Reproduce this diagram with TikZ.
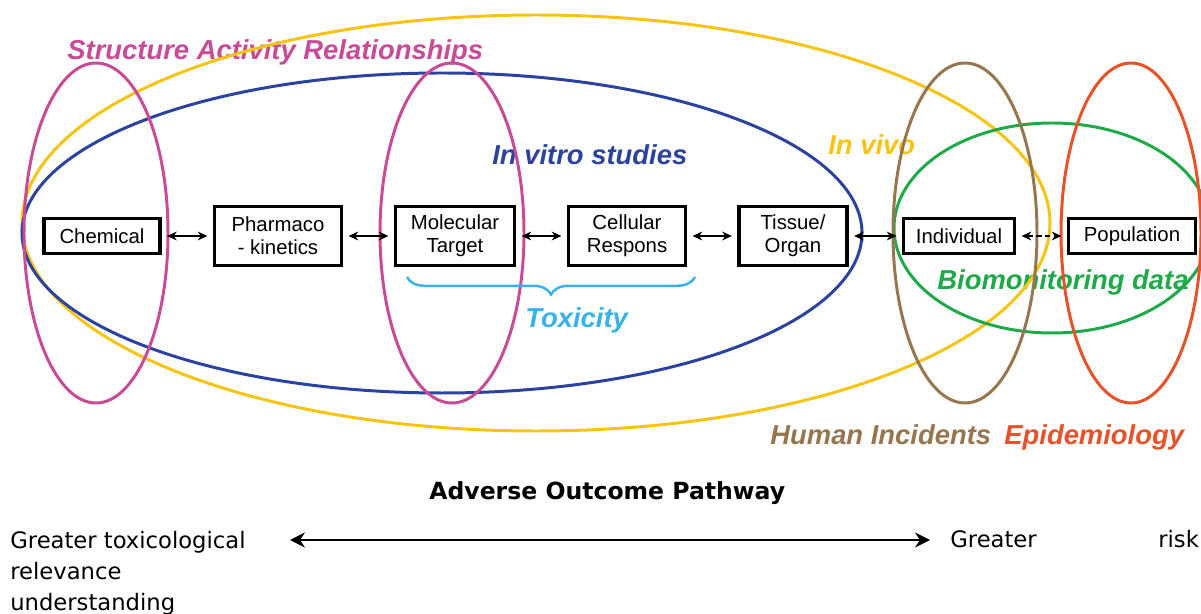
\documentclass[tikz,border=0pt]{standalone}
\usepackage{fontspec}
\setmainfont{Liberation Sans}
\newfontfamily\plainfont{DejaVu Sans}
\usetikzlibrary{arrows.meta,decorations.pathreplacing}

\definecolor{sarpink}{RGB}{200,75,150}
\definecolor{vivoyellow}{RGB}{248,196,20}
\definecolor{vitroblue}{RGB}{44,66,160}
\definecolor{toxcyan}{RGB}{56,178,236}
\definecolor{biogreen}{RGB}{30,170,72}
\definecolor{humanbrown}{RGB}{150,118,78}
\definecolor{epired}{RGB}{232,82,40}

\tikzset{
  box/.style={draw, line width=2.1pt, align=center, inner sep=0pt, font=\fontsize{11.6}{13}\selectfont},
  link/.style={{Stealth[length=5.5pt,width=5pt]}-{Stealth[length=5.5pt,width=5pt]}, line width=1.1pt, shorten <=3pt, shorten >=3pt},
  ring/.style={line width=1.7pt},
  lab/.style={anchor=base west, inner sep=0pt, font=\fontsize{15.6}{18}\selectfont\bfseries\itshape},
  plain/.style={anchor=base west, inner sep=0pt, font=\plainfont\fontsize{12.9}{17.6}\selectfont},
}

\begin{document}
\begin{tikzpicture}[x=0.02cm,y=-0.02cm]
        \useasboundingbox (0,0) rectangle (1201,614);
        \clip (0,0) rectangle (1201,614);
        % labels first, the rings go over them
        \node[lab, text=sarpink](sar) at (67,60) {Structure Activity Relationships};
        \node[lab, text=vitroblue](vitro) at (492,165) {In vitro studies};
        \node[lab, text=vivoyellow](vivo) at (828,155) {In vivo};
        \node[lab, text=biogreen](bio) at (937,290) {Biomonitoring data};
        \node[lab, text=toxcyan](tox) at (525,328) {Toxicity};
        \node[lab, text=humanbrown](human) at (770,445) {Human Incidents};
        \node[lab, text=epired](epi) at (1004,445) {Epidemiology};
        % rings
        \draw[ring, vivoyellow] (536,223) ellipse [x radius=514, y radius=208];
        \draw[ring, vitroblue] (442,233) ellipse [x radius=420, y radius=160];
        \draw[ring, sarpink] (96,233) ellipse [x radius=72, y radius=170];
        \draw[ring, sarpink] (452,233) ellipse [x radius=72, y radius=170];
        \draw[ring, biogreen] (1052,228) ellipse [x radius=158, y radius=105];
        \draw[ring, humanbrown] (965,233) ellipse [x radius=72, y radius=170];
        \draw[ring, epired] (1131,233) ellipse [x radius=70, y radius=170];
        % pathway boxes
        \node[box, minimum width=2.32cm, minimum height=0.7cm](chem) at (102,236) {Chemical};
        \node[box, minimum width=2.54cm, minimum height=1.18cm](pk) at (278,236) {Pharmaco\\- kinetics};
        \node[box, minimum width=2.38cm, minimum height=1.18cm](mt) at (455,236) {Molecular\\Target};
        \node[box, minimum width=2.34cm, minimum height=1.18cm](cr) at (627,236) {Cellular\\Respons};
        \node[box, minimum width=2.16cm, minimum height=1.18cm](to) at (793,236) {Tissue/\\Organ};
        \node[box, minimum width=2.22cm, minimum height=0.7cm](ind) at (959,236) {Individual};
        \node[box, minimum width=2.54cm, minimum height=0.7cm](pop) at (1132,236) {Population};
        \draw[link](chem)--(pk);
        \draw[link](pk)--(mt);
        \draw[link](mt)--(cr);
        \draw[link](cr)--(to);
        \draw[link](to)--(ind);
        \draw[link, densely dashed](ind)--(pop);
        \draw[toxcyan, line width=1.4pt, decorate, decoration={brace, mirror, amplitude=10pt}] (407,277) -- (695,277);
        % bottom line
        \node[anchor=base west, inner sep=0pt, font=\plainfont\bfseries\fontsize{13.4}{16}\selectfont](aop) at (429,500) {Adverse Outcome Pathway};
        \node[plain, anchor=north west, align=left](left) at (10,531) {Greater toxicological\\relevance\\understanding};
        \node[plain](right) at (950,548) {Greater};
        \node[plain](risk) at (1158,548) {risk};
        \coordinate (l) at (290,540);
        \coordinate (r) at (930,540);
        \draw[{Stealth[length=8.5pt,width=8.5pt]}-{Stealth[length=8.5pt,width=8.5pt]}, line width=1.1pt](l)--(r);
\end{tikzpicture}
\end{document}
